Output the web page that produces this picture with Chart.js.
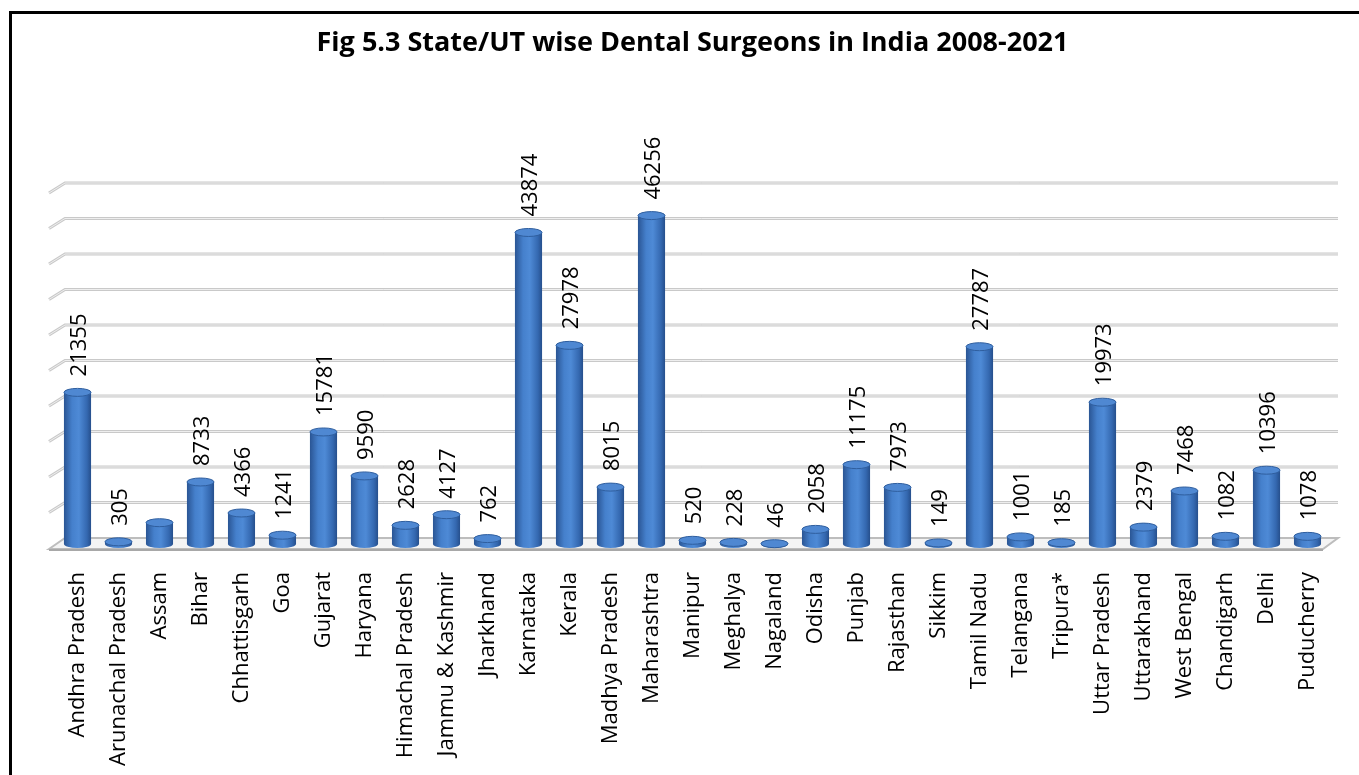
<!DOCTYPE html>
<html>
<head>
<meta charset="utf-8">
<script src="https://cdn.jsdelivr.net/npm/chart.js@4.4.1/dist/chart.umd.min.js"></script>
<style>
    html, body { margin: 0; padding: 0; background: #ffffff; overflow: hidden; }
    #wrap { position: relative; width: 1359px; height: 775px; }
    #frame { position: absolute; left: 9px; top: 11px; width: 1400px; height: 800px; border: 3px solid #000; pointer-events: none; }
</style>
</head>
<body>
<div id="wrap">
    <canvas id="dental-chart" width="1359" height="775"></canvas>
    <div id="frame"></div>
</div>
<script>
// State/UT wise dental surgeons, 2008-2021
const states = [
    'Andhra Pradesh', 'Arunachal Pradesh', 'Assam', 'Bihar', 'Chhattisgarh', 'Goa',
    'Gujarat', 'Haryana', 'Himachal Pradesh', 'Jammu & Kashmir', 'Jharkhand',
    'Karnataka', 'Kerala', 'Madhya Pradesh', 'Maharashtra', 'Manipur', 'Meghalya',
    'Nagaland', 'Odisha', 'Punjab', 'Rajasthan', 'Sikkim', 'Tamil Nadu', 'Telangana',
    'Tripura*', 'Uttar Pradesh', 'Uttarakhand', 'West Bengal', 'Chandigarh', 'Delhi',
    'Puducherry'
];
const surgeons = [
    21355, 305, 3000, 8733, 4366, 1241,
    15781, 9590, 2628, 4127, 762,
    43874, 27978, 8015, 46256, 520, 228,
    46, 2058, 11175, 7973, 149, 27787, 1001,
    185, 19973, 2379, 7468, 1082, 10396,
    1078
];
// Assam has no value label in the original figure
const hiddenLabels = ['Assam'];
const yMax = 50000;
const yStep = 5000;

const labelFont = '22px "Open Sans", "DejaVu Sans", sans-serif';

// back wall gridlines + floor, drawn from the y scale
const wallPlugin = {
    id: 'wall',
    beforeDatasetsDraw(chart) {
        const { ctx, chartArea, scales } = chart;
        const yScale = scales.y;
        const left = chartArea.left + 8;
        const right = chartArea.right + 10;
        const depth = 6;
        ctx.save();
        yScale.ticks.forEach(t => {
            const gy = yScale.getPixelForValue(t.value) - depth;
            if (t.value === 0) return;
            ctx.strokeStyle = '#c9c9c9';
            ctx.lineWidth = 3;
            ctx.beginPath();
            ctx.moveTo(left - 16, gy + 10);
            ctx.lineTo(left, gy);
            ctx.lineTo(right, gy);
            ctx.stroke();
            ctx.strokeStyle = '#eeeeee';
            ctx.lineWidth = 1;
            ctx.beginPath();
            ctx.moveTo(left - 16, gy + 10);
            ctx.lineTo(left, gy);
            ctx.lineTo(right, gy);
            ctx.stroke();
        });
        // floor plane
        const back = yScale.getPixelForValue(0) - depth;
        const front = back + 11;
        ctx.beginPath();
        ctx.moveTo(left - 16, front);
        ctx.lineTo(left, back);
        ctx.lineTo(right, back);
        ctx.lineTo(right - 15, front);
        ctx.closePath();
        ctx.fillStyle = '#f4f4f4';
        ctx.fill();
        ctx.strokeStyle = '#bdbdbd';
        ctx.lineWidth = 2;
        ctx.stroke();
        ctx.strokeStyle = '#a8a8a8';
        ctx.lineWidth = 2;
        ctx.beginPath();
        ctx.moveTo(left - 16, front + 1);
        ctx.lineTo(right - 15, front + 1);
        ctx.stroke();
        ctx.restore();
    }
};

// turn the flat bars into cylinders and add rotated value labels
const cylinderPlugin = {
    id: 'cylinders',
    afterDatasetsDraw(chart) {
        const { ctx } = chart;
        const meta = chart.getDatasetMeta(0);
        ctx.save();
        meta.data.forEach((bar, i) => {
            const { x, y, base, width } = bar.getProps(['x', 'y', 'base', 'width'], true);
            const rx = width / 2;
            const ry = 4;
            const grad = ctx.createLinearGradient(x - rx, 0, x + rx, 0);
            grad.addColorStop(0, '#2a5594');
            grad.addColorStop(0.3, '#4580cc');
            grad.addColorStop(0.55, '#4e8ad6');
            grad.addColorStop(0.85, '#3468b0');
            grad.addColorStop(1, '#264f8c');

            ctx.fillStyle = grad;
            ctx.beginPath();
            ctx.ellipse(x, base, rx, ry, 0, 0, Math.PI * 2);
            ctx.fill();
            ctx.fillRect(x - rx, y, width, base - y);

            ctx.beginPath();
            ctx.ellipse(x, y, rx, ry, 0, 0, Math.PI * 2);
            ctx.fillStyle = '#4f88d2';
            ctx.fill();
            ctx.strokeStyle = '#2f5e9e';
            ctx.lineWidth = 1;
            ctx.stroke();

            if (hiddenLabels.includes(states[i])) return;
            ctx.save();
            ctx.translate(x + 2, y - ry - 12);
            ctx.rotate(-Math.PI / 2);
            ctx.font = labelFont;
            ctx.fillStyle = '#000';
            ctx.textAlign = 'left';
            ctx.textBaseline = 'middle';
            ctx.fillText(String(surgeons[i]), 0, 0);
            ctx.restore();
        });
        ctx.restore();
    }
};

const canvas = document.getElementById('dental-chart');
new Chart(canvas, {
    type: 'bar',
    data: {
        labels: states,
        datasets: [{
            label: 'Dental Surgeons',
            data: surgeons,
            backgroundColor: '#3d72bf',
            borderWidth: 0,
            barPercentage: 0.66,
            categoryPercentage: 1
        }]
    },
    options: {
        responsive: false,
        animation: false,
        layout: { padding: { left: 57, right: 31, top: 0, bottom: 0 } },
        scales: {
            x: {
                grid: { display: false },
                border: { display: false },
                ticks: {
                    autoSkip: false,
                    minRotation: 90,
                    maxRotation: 90,
                    padding: 20,
                    color: '#000',
                    font: { family: '"Open Sans", "DejaVu Sans", sans-serif', size: 22 }
                },
                afterFit: (scale) => { scale.height = 231; }
            },
            y: {
                min: 0,
                max: yMax,
                grid: { display: false },
                border: { display: false },
                ticks: { display: false, stepSize: yStep },
                afterFit: (scale) => { scale.width = 0; }
            }
        },
        plugins: {
            legend: { display: false },
            tooltip: { enabled: false },
            title: {
                display: true,
                text: 'Fig 5.3 State/UT wise Dental Surgeons in India 2008-2021',
                color: '#000',
                font: { family: '"Open Sans", sans-serif', size: 27, weight: 'bold' },
                padding: { top: 27, bottom: 129.6 }
            }
        }
    },
    plugins: [wallPlugin, cylinderPlugin]
});
</script>
</body>
</html>
